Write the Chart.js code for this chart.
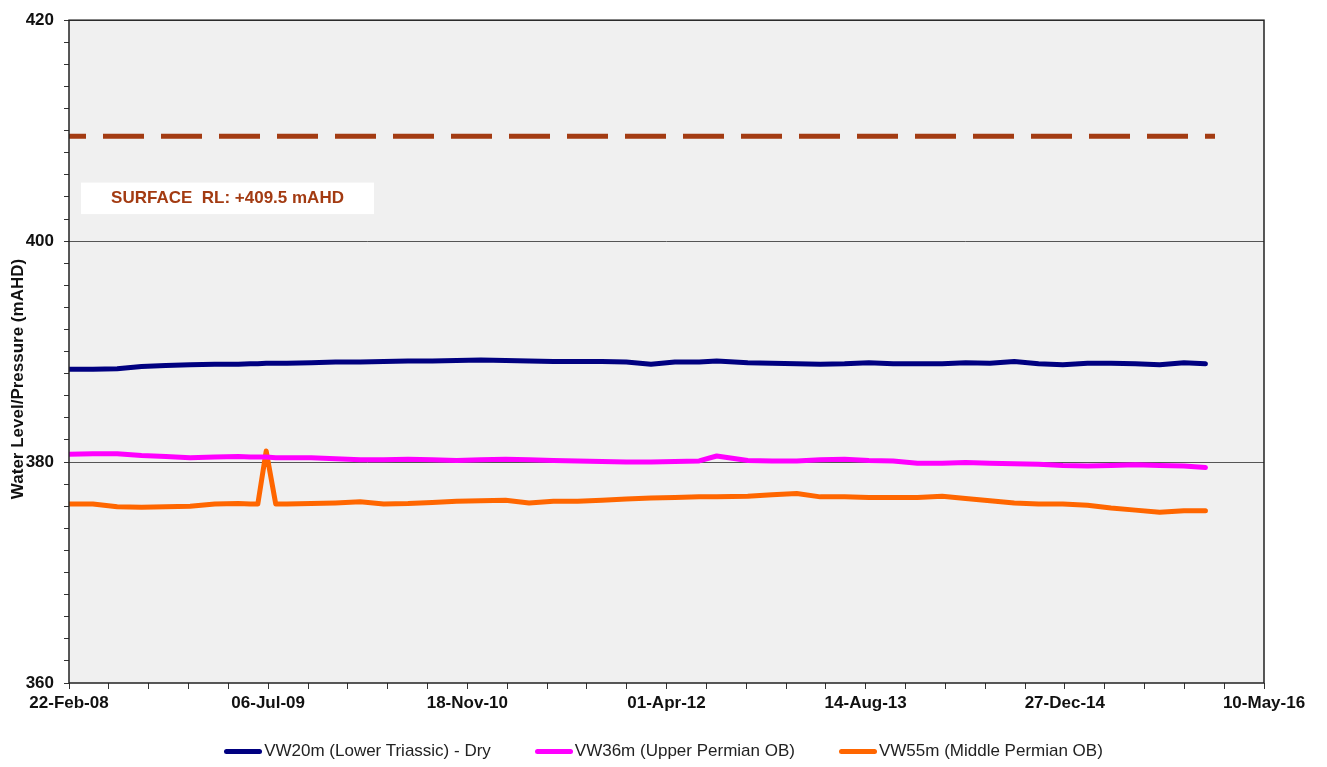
<!DOCTYPE html>
<html>
<head>
<meta charset="utf-8">
<script src="https://cdn.jsdelivr.net/npm/chart.js@4"></script>
<style>
  html, body { margin: 0; padding: 0; background: #fff; }
  .wrap { position: relative; width: 1327px; height: 767px; }
  #chart { position: absolute; left: 0; top: 0; }
  .legend { position: absolute; left: 0; right: 0; top: 741px; display: flex; justify-content: center; gap: 44px;
    font-family: Arial, 'Liberation Sans', sans-serif; font-size: 17px; color: #222; }
  .legend span { display: flex; align-items: center; white-space: nowrap; }
  .legend i { display: inline-block; width: 38px; height: 5px; border-radius: 3px; margin-right: 2px; }
</style>
</head>
<body>
<div class="wrap">
  <canvas id="chart" width="1327" height="767"></canvas>
  <div class="legend" id="legend"></div>
</div>
<script>
(function() {
  // sample dates (roughly bi-monthly readings)
  var dates = [
    '2008-02-22', '2008-04-22', '2008-06-22', '2008-08-22', '2008-10-22', '2008-12-22',
    '2009-02-22', '2009-04-22', '2009-05-22', '2009-06-10', '2009-07-01', '2009-07-25',
    '2009-08-22', '2009-10-22', '2009-12-22', '2010-02-22', '2010-04-22', '2010-06-22',
    '2010-08-22', '2010-10-22', '2010-12-22', '2011-02-22', '2011-04-22', '2011-06-22',
    '2011-08-22', '2011-10-22', '2011-12-22', '2012-02-22', '2012-04-22', '2012-06-22',
    '2012-08-05', '2012-10-22', '2012-12-22', '2013-02-22', '2013-04-22', '2013-06-22',
    '2013-08-22', '2013-10-22', '2013-12-22', '2014-02-22', '2014-04-22', '2014-06-22',
    '2014-08-22', '2014-10-22', '2014-12-22', '2015-02-22', '2015-04-22', '2015-06-22',
    '2015-08-22', '2015-10-22', '2015-12-15'
  ];
  var vw20 = [
    388.4, 388.4, 388.45, 388.65, 388.75, 388.8,
    388.85, 388.85, 388.9, 388.9, 388.95, 388.95,
    388.95, 389.0, 389.05, 389.05, 389.1, 389.15,
    389.15, 389.2, 389.25, 389.2, 389.15, 389.1,
    389.1, 389.1, 389.05, 388.85, 389.05, 389.05,
    389.15, 389.0, 388.95, 388.9, 388.85, 388.9,
    389.0, 388.9, 388.9, 388.9, 389.0, 388.95,
    389.1, 388.9, 388.8, 388.95, 388.95, 388.9,
    388.8, 389.0, 388.9
  ];
  var vw36 = [
    380.7, 380.75, 380.75, 380.6, 380.5, 380.4,
    380.45, 380.5, 380.45, 380.45, 380.45, 380.4,
    380.4, 380.4, 380.3, 380.2, 380.2, 380.25,
    380.2, 380.15, 380.2, 380.25, 380.2, 380.15,
    380.1, 380.05, 380.0, 380.0, 380.05, 380.1,
    380.55, 380.15, 380.1, 380.1, 380.2, 380.25,
    380.15, 380.1, 379.9, 379.9, 379.95, 379.9,
    379.85, 379.8, 379.7, 379.65, 379.7, 379.75,
    379.7, 379.65, 379.5
  ];
  var vw55 = [
    376.2, 376.2, 375.95, 375.9, 375.95, 376.0,
    376.2, 376.25, 376.2, 376.2, 381.0, 376.2,
    376.2, 376.25, 376.3, 376.4, 376.2, 376.25,
    376.35, 376.45, 376.5, 376.55, 376.3, 376.45,
    376.45, 376.55, 376.65, 376.75, 376.8, 376.85,
    376.85, 376.9, 377.05, 377.15, 376.85, 376.85,
    376.8, 376.8, 376.8, 376.9, 376.7, 376.5,
    376.3, 376.2, 376.2, 376.1, 375.85, 375.65,
    375.45, 375.6, 375.6
  ];
  var surfaceDates = ['2008-02-22', '2016-01-08'];
  var surfaceRL = [409.5, 409.5];

  var seriesNames = ['VW20m (Lower Triassic) - Dry', 'VW36m (Upper Permian OB)', 'VW55m (Middle Permian OB)'];
  var seriesColors = ['#000080', '#ff00ff', '#ff6600'];
  var tickLabels = ['22-Feb-08', '06-Jul-09', '18-Nov-10', '01-Apr-12', '14-Aug-13', '27-Dec-14', '10-May-16'];
  var surfaceLabel = 'SURFACE  RL: +409.5 mAHD';
  var yTitle = 'Water Level/Pressure (mAHD)';

  var DAY = 86400000;
  var xMin = Date.parse('2008-02-22');
  var xMax = Date.parse('2016-05-10');
  var FONT = "Arial, 'Liberation Sans', sans-serif";

  function toPoints(ds, vals) {
    return ds.map(function(d, i) { return { x: Date.parse(d), y: vals[i] }; });
  }

  var datasets = [vw20, vw36, vw55].map(function(vals, i) {
    return {
      label: seriesNames[i],
      data: toPoints(dates, vals),
      borderColor: seriesColors[i],
      backgroundColor: seriesColors[i],
      borderWidth: 5,
      pointRadius: 0,
      tension: 0,
      borderJoinStyle: 'round',
      borderCapStyle: 'round'
    };
  });
  datasets.push({
    label: 'Surface RL',
    data: toPoints(surfaceDates, surfaceRL),
    borderColor: '#a33b12',
    borderWidth: 5,
    borderDash: [41, 17],
    borderDashOffset: 24,
    pointRadius: 0
  });

  var framePlugin = {
    id: 'frame',
    beforeDraw: function(chart) {
      var a = chart.chartArea, ctx = chart.ctx;
      ctx.save();
      ctx.fillStyle = '#f0f0f0';
      ctx.fillRect(a.left, a.top, a.right - a.left, a.bottom - a.top);
      ctx.restore();
    },
    afterDatasetsDraw: function(chart) {
      var a = chart.chartArea, ctx = chart.ctx, ys = chart.scales.y;
      var top = ys.getPixelForValue(405.3), bottom = ys.getPixelForValue(402.45);
      var left = a.left + 12, width = 293;
      ctx.save();
      ctx.fillStyle = '#ffffff';
      ctx.fillRect(left, top, width, bottom - top);
      ctx.fillStyle = '#a33b12';
      ctx.font = 'bold 17px ' + FONT;
      ctx.textAlign = 'center';
      ctx.textBaseline = 'middle';
      ctx.fillText(surfaceLabel, left + width / 2, (top + bottom) / 2);
      ctx.restore();
    },
    afterDraw: function(chart) {
      var a = chart.chartArea, ctx = chart.ctx;
      ctx.save();
      ctx.strokeStyle = '#222';
      ctx.lineWidth = 1.5;
      ctx.strokeRect(a.left, a.top, a.right - a.left, a.bottom - a.top);
      ctx.translate(18.5, 379);
      ctx.rotate(-Math.PI / 2);
      ctx.font = 'bold 17px ' + FONT;
      ctx.fillStyle = '#111';
      ctx.textAlign = 'center';
      ctx.textBaseline = 'middle';
      ctx.fillText(yTitle, 0, 0);
      ctx.restore();
    }
  };

  new Chart(document.getElementById('chart').getContext('2d'), {
    type: 'line',
    data: { datasets: datasets },
    options: {
      responsive: false,
      animation: false,
      layout: { padding: { top: 17, right: 63, bottom: 44, left: 0 } },
      plugins: { legend: { display: false }, tooltip: { enabled: false } },
      scales: {
        x: {
          type: 'linear',
          min: xMin,
          max: xMax,
          afterBuildTicks: function(scale) {
            var t = [];
            for (var i = 0; i <= 30; i++) t.push({ value: xMin + i * 100 * DAY });
            scale.ticks = t;
          },
          afterFit: function(scale) { scale.height = 40; },
          border: { display: false },
          grid: { drawOnChartArea: false, drawTicks: true, tickLength: 6, tickColor: '#333' },
          ticks: {
            autoSkip: false, maxRotation: 0, minRotation: 0, padding: 4,
            color: '#111', font: { family: FONT, size: 17, weight: 'bold' },
            callback: function(value, index) { return index % 5 === 0 ? tickLabels[index / 5] : ''; }
          }
        },
        y: {
          min: 360,
          max: 420,
          afterFit: function(scale) { scale.width = 69; },
          border: { display: false },
          grid: {
            drawTicks: true, tickLength: 5, tickColor: '#333', lineWidth: 1,
            color: function(c) {
              var v = c.tick && c.tick.value;
              return (v === 380 || v === 400) ? '#555' : 'rgba(0,0,0,0)';
            }
          },
          ticks: {
            stepSize: 2, autoSkip: false, padding: 10,
            color: '#111', font: { family: FONT, size: 17, weight: 'bold' },
            callback: function(value) { return value % 20 === 0 ? value : ''; }
          }
        }
      }
    },
    plugins: [framePlugin]
  });

  var legend = document.getElementById('legend');
  legend.innerHTML = seriesNames.map(function(name, i) {
    return '<span><i style="background:' + seriesColors[i] + '"></i>' + name + '</span>';
  }).join('');
})();
</script>
</body>
</html>
